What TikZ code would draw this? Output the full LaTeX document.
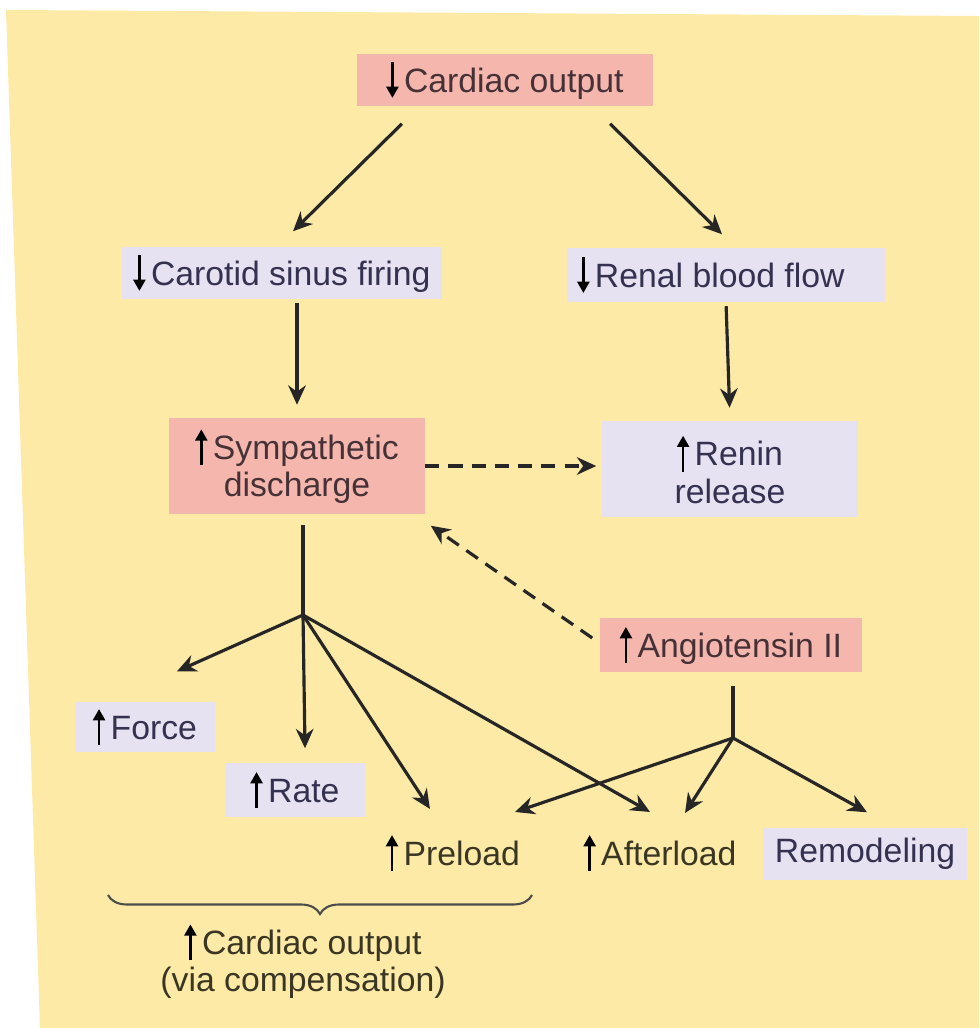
\documentclass[tikz,border=0pt]{standalone}
\usepackage{fontspec}
\setmainfont{Liberation Sans}
\usetikzlibrary{arrows.meta,decorations.pathreplacing}
\definecolor{bgyellow}{RGB}{253,234,166}
\definecolor{boxpink}{RGB}{245,182,174}
\definecolor{boxlilac}{RGB}{231,226,241}
\definecolor{inkpink}{RGB}{70,50,54}
\definecolor{inklilac}{RGB}{52,50,80}
\definecolor{inkplain}{RGB}{58,54,36}
\newcommand{\arrup}{\tikz[baseline=0pt]\draw[black,line width=0.75pt,-{Triangle[length=3.2pt,width=3.4pt]}] (0pt,-1.6pt) -- (0pt,8.6pt);\kern1.6pt}
\newcommand{\arrdn}{\tikz[baseline=0pt]\draw[black,line width=0.75pt,-{Triangle[length=3.2pt,width=3.4pt]}] (0pt,8.6pt) -- (0pt,-1.6pt);\kern1.6pt}

\begin{document}
\begin{tikzpicture}[x=0.01cm,y=-0.01cm,
  every node/.style={font=\fontsize{9.6}{10.6}\selectfont,text=inkplain},
  pinkbox/.style={fill=boxpink,text=inkpink,inner sep=0pt,align=center},
  lilacbox/.style={fill=boxlilac,text=inklilac,inner sep=0pt,align=center},
  link/.style={line width=0.9pt,draw=black!85},
  arr/.style={link,-{Stealth[length=5.5pt,width=5pt]}},
  dasharr/.style={arr,dash pattern=on 4pt off 2.6pt}]
\useasboundingbox (0,0) rectangle (979,1028);
\fill[bgyellow] (6,10) -- (979,16) -- (979,1028) -- (40,1028) -- cycle;
\node[pinkbox,minimum width=2.96cm,minimum height=0.51cm] (co) at (505,80) {\arrdn Cardiac output};
\node[lilacbox,minimum width=3.19cm,minimum height=0.51cm] (csf) at (282,273) {\arrdn Carotid sinus firing};
\node[lilacbox,minimum width=3.17cm,minimum height=0.53cm] (rbf) at (726,275) {\arrdn Renal blood flow\hspace{0.3cm}};
\node[pinkbox,minimum width=2.55cm,minimum height=0.95cm] (sd) at (297,466) {\arrup Sympathetic\\discharge};
\node[lilacbox,minimum width=2.56cm,minimum height=0.95cm] (rr) at (730,469) {\arrup Renin\\release};
\node[pinkbox,minimum width=2.62cm,minimum height=0.54cm] (ang) at (731,645) {\arrup Angiotensin II};
\node[lilacbox,minimum width=1.40cm,minimum height=0.49cm] (frc) at (145,727) {\arrup Force};
\node[lilacbox,minimum width=1.40cm,minimum height=0.54cm] (rate) at (295,790) {\arrup Rate};
\node (pre) at (453,853) {\arrup Preload};
\node (aft) at (660,853) {\arrup Afterload};
\node[lilacbox,minimum width=2.04cm,minimum height=0.52cm] (rem) at (865,854) {Remodeling};
\node[align=center] (cmp) at (303,961) {\arrup Cardiac output\\(via compensation)};
\coordinate (j1) at (303,615);
\coordinate (j2) at (733,738);
% upper part
\draw[arr] ([xshift=-1.03cm,yshift=-0.175cm]co.south) -- ([xshift=0.11cm,yshift=0.155cm]csf.north);
\draw[arr] ([xshift=1.05cm,yshift=-0.175cm]co.south) -- ([xshift=-0.04cm,yshift=0.135cm]rbf.north);
\draw[arr,shorten <=0.04cm,shorten >=0.13cm] (csf.south -| sd.north) -- (sd.north);
\draw[arr,shorten <=0.04cm,shorten >=0.13cm] (rbf.south) -- (rr.north);
\draw[dasharr,shorten >=0.05cm] (sd.east) -- (sd.east -| rr.west);
\draw[dasharr] ([xshift=-0.07cm,yshift=0.07cm]ang.west) -- ([xshift=0.055cm,yshift=-0.115cm]sd.south east);
% branches
\draw[link,shorten <=0.11cm] (sd.south -| j1) -- (j1);
\draw[link,shorten <=0.13cm] (ang.south -| j2) -- (j2);
\draw[arr] (j1) -- ([xshift=0.32cm,yshift=0.305cm]frc.north);
\draw[arr] (j1) -- ([xshift=0.1cm,yshift=0.14cm]rate.north);
\draw[arr] (j1) -- ([xshift=-0.23cm,yshift=0.44cm]pre.center);
\draw[arr] (j1) -- ([xshift=-0.1cm,yshift=0.41cm]aft.center);
\draw[arr] (j2) -- ([xshift=0.62cm,yshift=0.41cm]pre.center);
\draw[arr] (j2) -- ([xshift=0.25cm,yshift=0.4cm]aft.center);
\draw[arr] (j2) -- ([xshift=0.02cm,yshift=0.15cm]rem.north);
\draw[line width=0.6pt,draw=black!70,decorate,decoration={brace,mirror,amplitude=0.19cm}] (108,895) -- (532,895);
\end{tikzpicture}
\end{document}
